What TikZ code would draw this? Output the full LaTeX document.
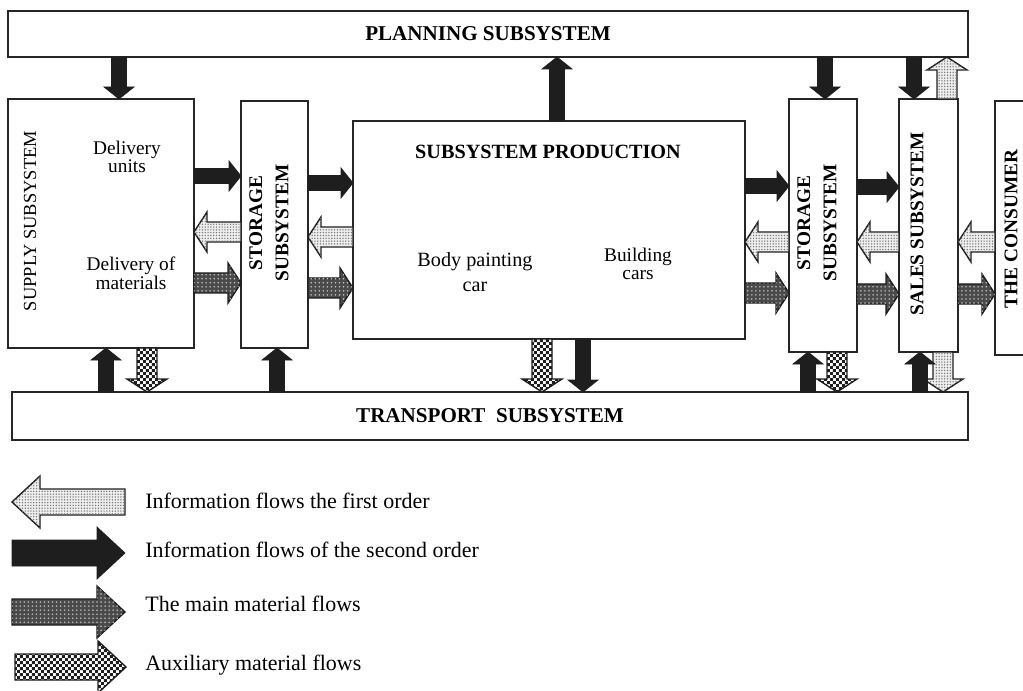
\documentclass[tikz,border=0pt]{standalone}
\usepackage{fontspec}
\setmainfont{Liberation Serif}
\usepackage{tikz}
\usetikzlibrary{calc,patterns}
\definecolor{flowBlack}{HTML}{1E1E1E}
\definecolor{flowDark}{HTML}{4A4A4A}
\definecolor{flowLight}{HTML}{EDEDED}
\definecolor{boxLine}{HTML}{262626}

% fine stipple and chequer fills
\pgfdeclarepatternformonly{finedots}{\pgfqpoint{-.8pt}{-.8pt}}{\pgfqpoint{.8pt}{.8pt}}{\pgfqpoint{1.6pt}{1.6pt}}%
  {\pgfpathcircle{\pgfpointorigin}{.42pt}\pgfusepath{fill}}
\pgfdeclarepatternformonly{sparsedots}{\pgfqpoint{-1.15pt}{-1.15pt}}{\pgfqpoint{1.15pt}{1.15pt}}{\pgfqpoint{2.3pt}{2.3pt}}%
  {\pgfpathcircle{\pgfpointorigin}{.5pt}\pgfusepath{fill}}
\pgfdeclarepatternformonly{finechecker}{\pgfpointorigin}{\pgfqpoint{3.4pt}{3.4pt}}{\pgfqpoint{3.4pt}{3.4pt}}%
  {\pgfpathrectangle{\pgfpointorigin}{\pgfqpoint{1.7pt}{1.7pt}}%
   \pgfpathrectangle{\pgfqpoint{1.7pt}{1.7pt}}{\pgfqpoint{1.7pt}{1.7pt}}\pgfusepath{fill}}

% block arrow: style, tail, tip
\newcommand{\flowS}{1.5mm}
\newcommand{\flowW}{3mm}
\newcommand{\flowL}{2.4mm}
\newcommand{\flow}[3]{%
  \coordinate (ft) at (#2);
  \coordinate (fp) at (#3);
  \draw[#1] ($(ft)!\flowS!90:(fp)$)
    -- ($($(fp)!\flowL!(ft)$)!\flowS!90:(fp)$)
    -- ($($(fp)!\flowL!(ft)$)!\flowW!90:(fp)$)
    -- (fp)
    -- ($($(fp)!\flowL!(ft)$)!\flowW!-90:(fp)$)
    -- ($($(fp)!\flowL!(ft)$)!\flowS!-90:(fp)$)
    -- ($(ft)!\flowS!-90:(fp)$) -- cycle;}

\tikzset{
  flow thin/.code={\def\flowS{1.5mm}\def\flowW{3mm}\def\flowL{2.4mm}},
  flow wide/.code={\def\flowS{2mm}\def\flowW{4mm}\def\flowL{2.6mm}},
  flow legend/.code={\def\flowS{2.6mm}\def\flowW{5.2mm}\def\flowL{5.6mm}},
  infotwo/.style={flow thin, fill=flowBlack, draw=flowBlack, line width=0.4pt},
  infoone/.style={flow wide, draw=flowBlack, line width=0.8pt, fill=flowLight,
                  postaction={pattern=finedots, pattern color=black!55}},
  mainmat/.style={flow wide, draw=flowBlack, line width=0.8pt, fill=flowDark,
                  postaction={pattern=sparsedots, pattern color=white!75!black}},
  auxmat/.style={flow wide, draw=flowBlack, line width=0.8pt, fill=white,
                 postaction={pattern=finechecker, pattern color=flowBlack}}
}

\begin{document}
\begin{tikzpicture}[x=0.2mm, y=-0.2mm,
    box/.style={draw=boxLine, line width=1pt, fill=white, inner sep=0pt, outer sep=0pt},
    title/.style={font=\fontsize{12}{14}\selectfont\bfseries},
    side/.style={rotate=90, align=center, inner sep=0pt, font=\fontsize{11}{15}\selectfont\bfseries},
    txt/.style={align=center, inner sep=0pt, font=\fontsize{11}{10}\selectfont},
    key/.style={anchor=west, inner sep=0pt, font=\fontsize{12.5}{14}\selectfont}]
  \useasboundingbox (0,0) rectangle (1023,691);
  \clip (0,0) rectangle (1023,691);

  % subsystems
  \node[box, minimum width=192mm, minimum height=9.2mm, title] (plan) at (488,34) {PLANNING SUBSYSTEM};
  \node[box, minimum width=37.2mm, minimum height=49.8mm] (supply) at (101,223.5) {};
  \node[box, minimum width=13.4mm, minimum height=49.4mm] (stor1) at (274.5,224.5) {};
  \node[box, minimum width=78.4mm, minimum height=43.6mm] (prod) at (549,230) {};
  \node[box, minimum width=13.6mm, minimum height=50.6mm] (stor2) at (823,225.5) {};
  \node[box, minimum width=11.8mm, minimum height=50.6mm] (sales) at (928.5,225.5) {};
  \node[box, minimum width=8mm, minimum height=50.8mm] (cons) at (1015,228) {};
  \node[box, minimum width=191.2mm, minimum height=9.6mm, title] (trans) at (490,416) {TRANSPORT\ \ SUBSYSTEM};

  \node[side, font=\fontsize{10.5}{12}\selectfont] at (30,221) {SUPPLY SUBSYSTEM};
  \node[txt] at (127,157) {Delivery\\units};
  \node[txt] at (131,273) {Delivery of\\materials};
  \node[side] at (269,223) {STORAGE\\SUBSYSTEM};
  \node[title, font=\fontsize{11.5}{14}\selectfont\bfseries] at (548,152) {SUBSYSTEM PRODUCTION};
  \node[txt, font=\fontsize{11.5}{14}\selectfont] at (475,272) {Body painting\\car};
  \node[txt] at (638,264) {Building\\cars};
  \node[side] at (817,223) {STORAGE\\SUBSYSTEM};
  \node[side] at (917,224) {SALES SUBSYSTEM};
  \node[side] at (1011,229) {THE CONSUMER};

  % horizontal flows
  \flow{infotwo}{supply.east |- 0,176}{stor1.west |- 0,176}
  \flow{infoone}{stor1.west |- 0,232}{supply.east |- 0,232}
  \flow{mainmat}{supply.east |- 0,283}{stor1.west |- 0,283}
  \flow{infotwo}{stor1.east |- 0,183}{prod.west |- 0,183}
  \flow{infoone}{prod.west |- 0,237}{stor1.east |- 0,237}
  \flow{mainmat}{stor1.east |- 0,288}{prod.west |- 0,288}
  \flow{infotwo}{prod.east |- 0,186}{stor2.west |- 0,186}
  \flow{infoone}{stor2.west |- 0,242}{prod.east |- 0,242}
  \flow{mainmat}{prod.east |- 0,293}{stor2.west |- 0,293}
  \flow{infotwo}{stor2.east |- 0,187}{sales.west |- 0,187}
  \flow{infoone}{sales.west |- 0,242}{stor2.east |- 0,242}
  \flow{mainmat}{stor2.east |- 0,294}{sales.west |- 0,294}
  \flow{infoone}{cons.west |- 0,242}{sales.east |- 0,242}
  \flow{mainmat}{sales.east |- 0,294}{cons.west |- 0,294}

  % vertical flows
  \flow{infotwo}{plan.south -| 119,0}{supply.north -| 119,0}
  \flow{infotwo}{prod.north -| 557,0}{plan.south -| 557,0}
  \flow{infotwo}{plan.south -| 825,0}{stor2.north -| 825,0}
  \flow{infotwo}{plan.south -| 914,0}{sales.north -| 914,0}
  \flow{infoone}{sales.north -| 947,0}{plan.south -| 947,0}
  \flow{infotwo}{trans.north -| 106,0}{supply.south -| 106,0}
  \flow{auxmat}{supply.south -| 147,0}{trans.north -| 147,0}
  \flow{infotwo}{trans.north -| 277,0}{stor1.south -| 277,0}
  \flow{auxmat}{prod.south -| 542,0}{trans.north -| 542,0}
  \flow{infotwo}{prod.south -| 583,0}{trans.north -| 583,0}
  \flow{auxmat}{stor2.south -| 837,0}{trans.north -| 837,0}
  \flow{infotwo}{trans.north -| 808,0}{stor2.south -| 808,0}
  \flow{infoone}{sales.south -| 943,0}{trans.north -| 943,0}
  \flow{infotwo}{trans.north -| 920,0}{sales.south -| 920,0}

  % legend
  \node[key] (k1) at (145,501) {Information flows the first order};
  \node[key] (k2) at (145,550) {Information flows of the second order};
  \node[key] (k3) at (145,604) {The main material flows};
  \node[key] (k4) at (145,665) {Auxiliary material flows};
  \flow{infoone, flow legend}{$(k1.west)+(-20,1)$}{$(k1.west)+(-133,1)$}
  \flow{infotwo, flow legend}{$(k2.west)+(-133,3)$}{$(k2.west)+(-20,3)$}
  \flow{mainmat, flow legend}{$(k3.west)+(-133,8)$}{$(k3.west)+(-20,8)$}
  \flow{auxmat, flow legend}{$(k4.west)+(-130,2)$}{$(k4.west)+(-19,2)$}
\end{tikzpicture}
\end{document}
